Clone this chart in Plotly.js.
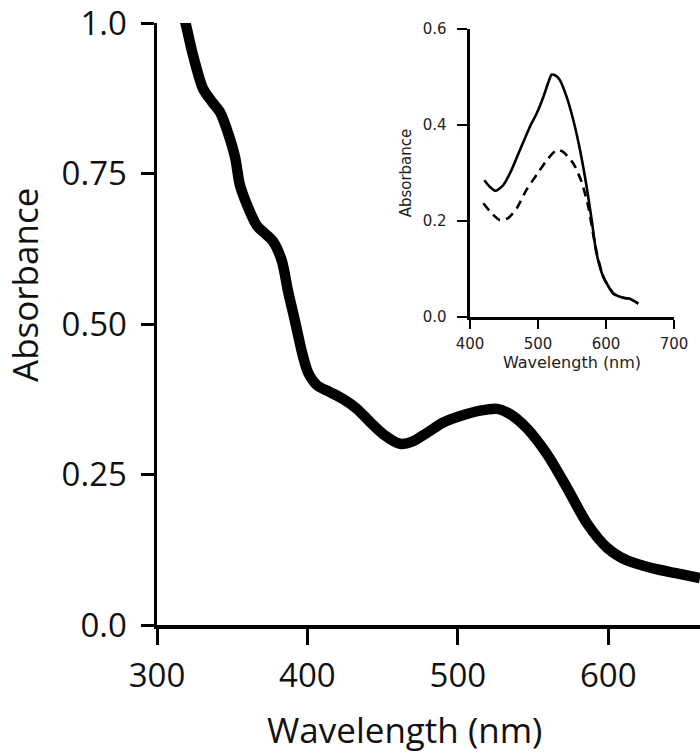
<!DOCTYPE html>
<html>
<head>
<meta charset="utf-8">
<script src="https://cdn.plot.ly/plotly-3.0.1.min.js"></script>
<style>html,body{margin:0;padding:0;background:#fff}#chart{width:700px;height:755px}</style>
</head>
<body>
<div id="chart"></div>
<script>
// Main spectrum
const mainWavelength = [314, 318.6, 324, 330.6, 336.6, 341.9, 347, 352, 355, 360.5, 366.5, 372, 377, 383, 387, 392, 396.5, 400.5, 406.5, 415, 424, 433, 441.7, 450.4, 461.7, 470, 480, 490, 501.6, 514.9, 526.2, 534.9, 546.2, 559.5, 572.8, 586.1, 599.4, 612.7, 630, 645, 661];
const mainAbsorbance = [1.04, 1.003, 0.946, 0.891, 0.869, 0.852, 0.819, 0.776, 0.732, 0.694, 0.663, 0.650, 0.638, 0.605, 0.556, 0.502, 0.452, 0.419, 0.398, 0.387, 0.375, 0.359, 0.337, 0.317, 0.301, 0.305, 0.320, 0.336, 0.347, 0.356, 0.359, 0.350, 0.326, 0.283, 0.227, 0.168, 0.128, 0.107, 0.094, 0.086, 0.078];

// Inset: solid curve
const insetSolidWavelength = [421, 429.4, 438, 449, 461, 473.5, 488, 498, 508, 515, 520, 526, 532, 542, 552, 561.8, 571.6, 579, 586, 596, 610.8, 625.5, 635, 647.5];
const insetSolidAbsorbance = [0.285, 0.271, 0.263, 0.275, 0.306, 0.348, 0.396, 0.424, 0.459, 0.488, 0.505, 0.503, 0.494, 0.459, 0.41, 0.348, 0.271, 0.202, 0.133, 0.084, 0.049, 0.040, 0.038, 0.028];

// Inset: dashed curve
const insetDashWavelength = [419.6, 432, 444, 456, 468.6, 483, 498, 513, 527.5, 537, 552, 564, 574, 581, 587, 596, 610.8, 625.5, 635, 647.5];
const insetDashAbsorbance = [0.237, 0.216, 0.202, 0.206, 0.226, 0.265, 0.296, 0.327, 0.348, 0.344, 0.320, 0.282, 0.230, 0.174, 0.130, 0.084, 0.049, 0.040, 0.038, 0.028];

// Tick labels
const mainYTickVals = [0, 0.25, 0.5, 0.75, 1.0];
const mainYTickText = ["0.0", "0.25", "0.50", "0.75", "1.0"];
const mainXTickVals = [300, 400, 500, 600];
const insetYTickVals = [0, 0.2, 0.4, 0.6];
const insetYTickText = ["0.0", "0.2", "0.4", "0.6"];
const insetXTickVals = [400, 500, 600, 700];

const mainFont = "Open Sans, Lato, sans-serif";
const insetFont = "DejaVu Sans, Verdana, sans-serif";

const traces = [
  {x: mainWavelength, y: mainAbsorbance, type: "scatter", mode: "lines",
   line: {color: "#000", width: 10.5, shape: "spline", smoothing: 0.8},
   xaxis: "x", yaxis: "y", showlegend: false, hoverinfo: "skip"},
  {x: insetSolidWavelength, y: insetSolidAbsorbance, type: "scatter", mode: "lines",
   line: {color: "#000", width: 2.6, shape: "spline", smoothing: 0.6},
   xaxis: "x2", yaxis: "y2", showlegend: false},
  {x: insetDashWavelength, y: insetDashAbsorbance, type: "scatter", mode: "lines",
   line: {color: "#000", width: 2.6, shape: "spline", smoothing: 0.6, dash: "9px,6px"},
   xaxis: "x2", yaxis: "y2", showlegend: false}
];

const layout = {
  width: 700, height: 755,
  margin: {l: 157, r: 0, t: 23, b: 130},
  paper_bgcolor: "#fff", plot_bgcolor: "rgba(0,0,0,0)",
  showlegend: false,
  xaxis: {
    domain: [0, 1], range: [300, 661], showgrid: false, zeroline: false,
    showline: true, linecolor: "#000", linewidth: 3.5,
    ticks: "outside", ticklen: 16, tickwidth: 3, tickcolor: "#000",
    tickvals: mainXTickVals, ticklabelstandoff: 3,
    tickfont: {family: mainFont, size: 33, color: "#111"}
  },
  yaxis: {
    domain: [0, 1], range: [0, 1.0], showgrid: false, zeroline: false,
    showline: true, linecolor: "#000", linewidth: 3.5,
    ticks: "outside", ticklen: 13, tickwidth: 3, tickcolor: "#000",
    tickvals: mainYTickVals, ticktext: mainYTickText, ticklabelstandoff: 7,
    ticklabeloverflow: "allow",
    tickfont: {family: mainFont, size: 33, color: "#111"}
  },
  xaxis2: {
    domain: [0.5764, 0.9521], anchor: "y2", range: [400, 700],
    showgrid: false, zeroline: false,
    showline: true, linecolor: "#000", linewidth: 2.5,
    ticks: "outside", ticklen: 9, tickwidth: 2.5, tickcolor: "#000",
    tickvals: insetXTickVals, ticklabelstandoff: 2,
    tickfont: {family: insetFont, size: 15, color: "#222"},
    title: {text: "Wavelength (nm)", font: {family: insetFont, size: 16, color: "#222"}, standoff: 4}
  },
  yaxis2: {
    domain: [0.5116, 0.990], anchor: "x2", range: [0, 0.6],
    showgrid: false, zeroline: false,
    showline: true, linecolor: "#000", linewidth: 2.5,
    ticks: "outside", ticklen: 10, tickwidth: 2.5, tickcolor: "#000",
    tickvals: insetYTickVals, ticktext: insetYTickText, ticklabelstandoff: 8,
    tickfont: {family: insetFont, size: 15, color: "#222"},
    title: {text: "Absorbance", font: {family: insetFont, size: 15, color: "#222"}, standoff: 8}
  },
  annotations: [
    {text: "Wavelength (nm)", xref: "paper", yref: "paper", x: 0.4567, y: -0.1728,
     xanchor: "center", yanchor: "middle", showarrow: false,
     font: {family: mainFont, size: 35, color: "#111"}},
    {text: "Absorbance", xref: "paper", yref: "paper", x: -0.2431, y: 0.5648,
     xanchor: "center", yanchor: "middle", textangle: -90, showarrow: false,
     font: {family: mainFont, size: 35, color: "#111"}}
  ]
};

Plotly.newPlot("chart", traces, layout, {displayModeBar: false, staticPlot: true});
</script>
</body>
</html>
